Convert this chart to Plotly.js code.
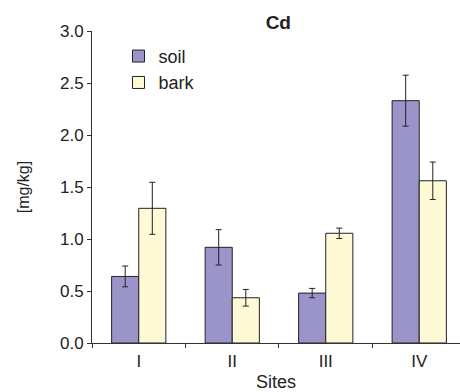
<!DOCTYPE html>
<html><head><meta charset="utf-8">
<script src="https://cdn.plot.ly/plotly-3.0.1.min.js"></script>
<style>html,body{margin:0;padding:0;background:#fff}#c{width:460px;height:392px}</style>
</head><body><div id="c"></div>
<script>
const sites = ["I", "II", "III", "IV"];
const soil = [0.64, 0.92, 0.48, 2.33];
const soilErr = [0.10, 0.17, 0.045, 0.245];
const bark = [1.295, 0.435, 1.055, 1.56];
const barkErr = [0.25, 0.08, 0.05, 0.18];

const font = {family: "Liberation Sans, Arial, sans-serif", color: "#222"};
const traces = [
  {type: "bar", name: "soil", x: sites, y: soil,
   error_y: {type: "data", array: soilErr, visible: true, color: "#222", thickness: 1, width: 3},
   marker: {color: "#9b94c8", line: {color: "#222", width: 1}}},
  {type: "bar", name: "bark", x: sites, y: bark,
   error_y: {type: "data", array: barkErr, visible: true, color: "#222", thickness: 1, width: 3},
   marker: {color: "#fffad6", line: {color: "#222", width: 1}}}
];
const layout = {
  width: 460, height: 392,
  margin: {l: 92, r: 0, t: 31, b: 49},
  paper_bgcolor: "#fff", plot_bgcolor: "#fff",
  font: Object.assign({size: 16}, font),
  title: {text: "<b>Cd</b>", x: 0.605, xanchor: "center", y: 0.943, yanchor: "middle", font: Object.assign({size: 19}, font)},
  barmode: "group", bargap: 0.42, bargroupgap: 0,
  showlegend: true,
  legend: {x: 0.072, y: 0.978, xanchor: "left", yanchor: "top", bgcolor: "rgba(0,0,0,0)",
           font: Object.assign({size: 18}, font), itemwidth: 30, tracegroupgap: 2},
  xaxis: {type: "category", range: [-0.5, 3.436], showline: true, linecolor: "#333", linewidth: 1,
          ticks: "outside", tickson: "boundaries", ticklen: 4, tickcolor: "#333",
          showgrid: false, zeroline: false, tickfont: Object.assign({size: 17}, font),
          ticklabelstandoff: 3,
          title: {text: "Sites", standoff: 5, font: Object.assign({size: 18}, font)}},
  yaxis: {range: [0, 3.0], dtick: 0.5, tickformat: ".1f", showline: true, linecolor: "#333", linewidth: 1,
          ticks: "outside", ticklen: 4, tickcolor: "#333", showgrid: false, zeroline: false,
          tickfont: Object.assign({size: 17}, font),
          title: {text: "[mg/kg]", standoff: 26, font: Object.assign({size: 16}, font)}}
};
Plotly.newPlot("c", traces, layout, {displayModeBar: false, staticPlot: true});
</script></body></html>
